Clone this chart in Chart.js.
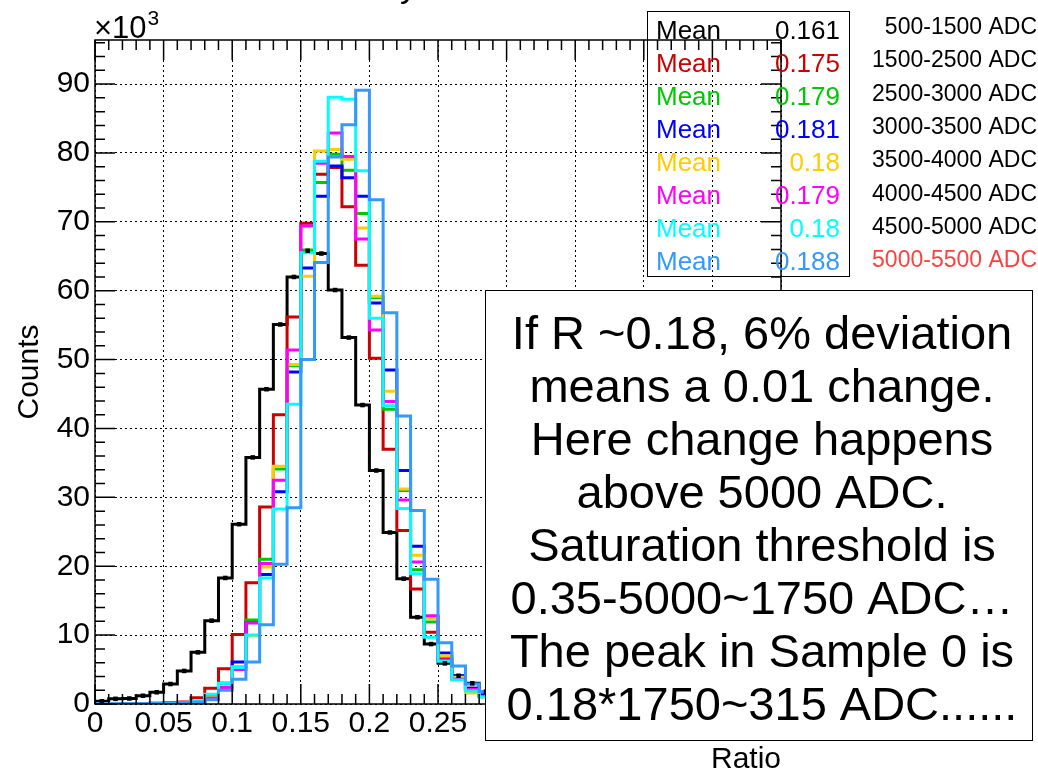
<!DOCTYPE html>
<html>
<head>
<meta charset="utf-8">
<script src="https://cdn.jsdelivr.net/npm/chart.js@4.4.0/dist/chart.umd.min.js"></script>
<style>
  html, body { margin: 0; padding: 0; background: #fff; }
  canvas { display: block; }
</style>
</head>
<body>
<canvas id="grafico" width="1038" height="771"></canvas>
<script>
// Ratio bins (0.01 wide), values in units of 10^3 counts
const binLow = [0.00, 0.01, 0.02, 0.03, 0.04, 0.05, 0.06, 0.07, 0.08, 0.09,
                0.10, 0.11, 0.12, 0.13, 0.14, 0.15, 0.16, 0.17, 0.18, 0.19,
                0.20, 0.21, 0.22, 0.23, 0.24, 0.25, 0.26, 0.27, 0.28, 0.29,
                0.30, 0.31, 0.32, 0.33, 0.34, 0.35];
const binHigh = 0.36;

const faixas = ["500-1500 ADC", "1500-2500 ADC", "2500-3000 ADC", "3000-3500 ADC",
                "3500-4000 ADC", "4000-4500 ADC", "4500-5000 ADC", "5000-5500 ADC"];
const medias = ["0.161", "0.175", "0.179", "0.181", "0.18", "0.179", "0.18", "0.188"];
const cores = ["#000000", "#cc0000", "#00c800", "#0000ff", "#ffcc00", "#ff00ff", "#00ffff", "#3399ff"];

const h500 = [0.4, 0.75, 0.8, 1.2, 1.7, 2.9, 4.8, 7.5, 12.1, 18.3,
              26.1, 35.8, 45.7, 55.1, 62.0, 65.8, 65.4, 60.1, 53.2, 43.4,
              33.9, 24.9, 18.2, 12.6, 8.7, 5.9, 4.1, 3.0, 1.8, 1.2,
              0.8, 0.5, 0.3, 0.2, 0.1, 0.1];
const h1500 = [0, 0, 0, 0.05, 0.1, 0.2, 0.3, 0.9, 2.3, 5.1,
               10.1, 17.6, 28.6, 42.0, 56.2, 69.8, 76.9, 77.9, 72.2, 63.7,
               50.2, 37.0, 25.2, 16.7, 10.4, 6.6, 4.0, 2.3, 1.3, 0.8,
               0.5, 0.3, 0.2, 0.1, 0.05, 0];
const h2500 = [0, 0, 0, 0, 0.05, 0.1, 0.15, 0.3, 1.0, 2.8,
               5.4, 12.2, 21.0, 34.1, 49.1, 65.9, 75.7, 79.8, 77.5, 71.2,
               59.0, 42.8, 31.0, 19.5, 11.9, 6.9, 4.1, 2.0, 1.2, 0.7,
               0.4, 0.25, 0.15, 0.1, 0.05, 0];
const h3000 = [0, 0, 0, 0, 0.05, 0.1, 0.15, 0.3, 1.0, 3.0,
               6.1, 11.8, 18.8, 30.8, 48.2, 63.3, 73.7, 78.1, 76.4, 73.7,
               58.2, 48.5, 33.9, 22.9, 12.6, 7.4, 4.1, 2.3, 1.3, 0.8,
               0.5, 0.3, 0.2, 0.1, 0.05, 0];
const h3500 = [0, 0, 0, 0, 0.05, 0.1, 0.1, 0.2, 0.9, 2.6,
               5.4, 9.9, 19.9, 34.5, 49.3, 62.1, 80.3, 80.5, 79.1, 69.1,
               59.2, 45.4, 31.2, 21.6, 12.4, 7.0, 3.9, 1.6, 1.0, 0.6,
               0.35, 0.2, 0.1, 0.05, 0, 0];
const h4000 = [0, 0, 0, 0, 0.1, 0.1, 0.15, 0.3, 0.8, 2.4,
               5.0, 11.8, 20.4, 32.5, 51.4, 69.4, 78.5, 82.9, 79.5, 67.5,
               54.3, 43.9, 29.6, 20.6, 12.8, 6.4, 3.6, 2.1, 1.1, 0.6,
               0.35, 0.2, 0.1, 0.05, 0, 0];
const h4500 = [0, 0, 0, 0, 0.05, 0.1, 0.15, 0.35, 1.4, 3.0,
               5.3, 10.0, 18.3, 28.3, 43.5, 65.5, 78.8, 88.1, 87.8, 77.4,
               56.0, 43.3, 28.4, 18.9, 9.7, 6.2, 3.5, 1.9, 1.0, 0.6,
               0.35, 0.2, 0.1, 0.05, 0, 0];
const h5000 = [0, 0, 0, 0, 0.05, 0.05, 0.1, 0.3, 0.6, 2.0,
               3.6, 6.1, 11.5, 20.3, 28.5, 50.0, 64.1, 79.4, 84.1, 89.1,
               73.2, 56.8, 41.8, 28.1, 18.1, 8.9, 5.5, 2.9, 1.8, 1.1,
               0.7, 0.4, 0.25, 0.15, 0.1, 0.05];

const series = [h500, h1500, h2500, h3000, h3500, h4000, h4500, h5000];

const textoCaixa = [
    "If R ~0.18, 6% deviation",
    "means a 0.01 change.",
    "Here change happens",
    "above 5000 ADC.",
    "Saturation threshold is",
    "0.35-5000~1750 ADC\u2026",
    "The peak in Sample 0 is",
    "0.18*1750~315 ADC......"
];

const FONTE = "'Liberation Sans', Arial, sans-serif";

// histogram as step line: point at each low edge, plus the closing edge
function degraus(valores) {
    const pts = binLow.map((x, i) => ({ x: x, y: valores[i] }));
    pts.push({ x: binHigh, y: valores[valores.length - 1] });
    return pts;
}

const datasets = [];
// black markers at bin centres
datasets.push({
    type: 'scatter',
    data: binLow.map((x, i) => ({ x: x + 0.005, y: h500[i] })),
    pointStyle: 'rect',
    pointRadius: 3.2,
    pointBackgroundColor: '#000',
    pointBorderColor: '#000',
    pointBorderWidth: 0,
    showLine: false,
    order: 0
});
series.forEach((s, i) => {
    datasets.push({
        type: 'line',
        data: degraus(s),
        stepped: true,
        borderColor: cores[i],
        borderWidth: 3,
        pointRadius: 0,
        fill: false,
        order: series.length - i
    });
});

const molduraPlugin = {
    id: 'moldura',
    afterDraw(chart) {
        const ctx = chart.ctx;
        const a = chart.chartArea;
        const xs = chart.scales.x, ys = chart.scales.y;
        ctx.save();

        // frame
        ctx.strokeStyle = '#000';
        ctx.lineWidth = 1.5;
        ctx.strokeRect(a.left, a.top, a.right - a.left, a.bottom - a.top);

        // ticks on all four sides
        ctx.lineWidth = 1.5;
        ctx.beginPath();
        for (let k = 0; k <= 50; k++) {
            const px = xs.getPixelForValue(k / 100);
            const len = (k % 5 === 0) ? 20 : 10;
            ctx.moveTo(px, a.bottom); ctx.lineTo(px, a.bottom - len);
            ctx.moveTo(px, a.top); ctx.lineTo(px, a.top + len);
        }
        for (let v = 0; v <= 96; v += 2) {
            const py = ys.getPixelForValue(v);
            const len = (v % 10 === 0) ? 20 : 10;
            ctx.moveTo(a.left, py); ctx.lineTo(a.left + len, py);
            ctx.moveTo(a.right, py); ctx.lineTo(a.right - len, py);
        }
        ctx.stroke();

        ctx.fillStyle = '#000';
        // bit of the title above the canvas
        ctx.font = '34px ' + FONTE;
        ctx.textAlign = 'left';
        ctx.textBaseline = 'alphabetic';
        ctx.fillText('y', 400, -3);

        // x10^3
        ctx.font = '31px ' + FONTE;
        ctx.fillText('\u00d710', 94, 38);
        const w = ctx.measureText('\u00d710').width;
        ctx.font = '21px ' + FONTE;
        ctx.fillText('3', 94 + w + 1, 25);

        // y title
        ctx.save();
        ctx.translate(38, (a.top + a.bottom) / 2);
        ctx.rotate(-Math.PI / 2);
        ctx.font = '30px ' + FONTE;
        ctx.textAlign = 'center';
        ctx.fillText('Counts', 0, 0);
        ctx.restore();

        // x title
        ctx.font = '30px ' + FONTE;
        ctx.textAlign = 'right';
        ctx.fillText('Ratio', a.right, 768);

        // stats/legend box
        ctx.lineWidth = 1;
        ctx.strokeRect(647.5, 11.5, 202, 265);
        for (let i = 0; i < medias.length; i++) {
            const yb = 39 + 33 * i;
            ctx.fillStyle = cores[i];
            ctx.font = '26px ' + FONTE;
            ctx.textAlign = 'left';
            ctx.fillText('Mean', 656, yb);
            ctx.textAlign = 'right';
            ctx.fillText(medias[i], 840, yb);
            ctx.font = '23px ' + FONTE;
            ctx.fillStyle = (i === faixas.length - 1) ? '#ff4040' : '#000';
            ctx.fillText(faixas[i], 1037, 34 + 33.3 * i);
        }

        // comment box
        ctx.fillStyle = '#fff';
        ctx.fillRect(485, 290, 547, 450);
        ctx.strokeStyle = '#000';
        ctx.lineWidth = 1;
        ctx.strokeRect(485.5, 290.5, 547, 450);
        ctx.fillStyle = '#000';
        ctx.font = '47px ' + FONTE;
        ctx.textAlign = 'center';
        textoCaixa.forEach((linha, i) => {
            ctx.fillText(linha, 762, 349 + 53 * i);
        });

        ctx.restore();
    }
};

new Chart(document.getElementById('grafico'), {
    data: { datasets: datasets },
    options: {
        responsive: false,
        animation: false,
        devicePixelRatio: 1,
        layout: { padding: { top: 40, right: 257, left: 0, bottom: 0 } },
        plugins: { legend: { display: false }, tooltip: { enabled: false } },
        scales: {
            x: {
                type: 'linear',
                min: 0,
                max: 0.5,
                afterFit(scale) { scale.height = 67; },
                ticks: {
                    stepSize: 0.05,
                    padding: 2,
                    maxRotation: 0,
                    autoSkip: false,
                    color: '#000',
                    font: { family: FONTE, size: 30 },
                    callback: v => String(Number(v.toFixed(2)))
                },
                grid: { color: '#000', lineWidth: 1, drawTicks: false },
                border: { display: false, dash: [2, 3] }
            },
            y: {
                type: 'linear',
                min: 0,
                max: 96.4,
                afterFit(scale) { scale.width = 95; },
                afterBuildTicks(scale) {
                    scale.ticks = scale.ticks.filter(t => Math.abs(t.value % 10) < 1e-6);
                },
                ticks: {
                    stepSize: 10,
                    padding: 5,
                    color: '#000',
                    font: { family: FONTE, size: 30 }
                },
                grid: { color: '#000', lineWidth: 1, drawTicks: false },
                border: { display: false, dash: [2, 3] }
            }
        }
    },
    plugins: [molduraPlugin]
});
</script>
</body>
</html>
